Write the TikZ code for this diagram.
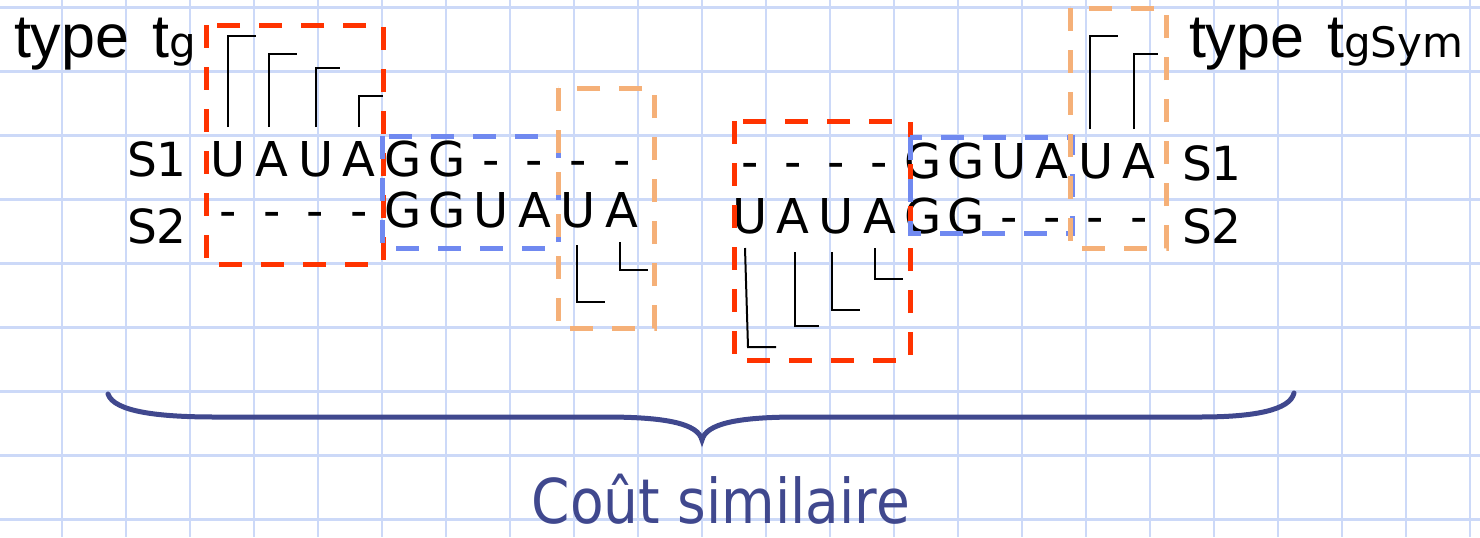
\documentclass[tikz,border=0pt]{standalone}
\usepackage{fontspec}
\setmainfont{DejaVu Sans}
\newfontfamily\typefont{Liberation Sans}
\newfontfamily\costfont[FakeStretch=0.89]{DejaVu Sans}
\definecolor{gridblue}{RGB}{204,217,248}
\definecolor{boxred}{RGB}{255,51,0}
\definecolor{boxblue}{RGB}{112,137,240}
\definecolor{boxorange}{RGB}{245,176,120}
\definecolor{bracecol}{RGB}{64,72,142}
\begin{document}
\begin{tikzpicture}[x=0.5pt,y=-0.5pt,
  gridline/.style={draw=gridblue,line width=1.3pt},
  dbox/.style={line width=2.5pt,dash pattern=on 11.5pt off 9.5pt},
  redbox/.style={dbox,draw=boxred},
  bluebox/.style={dbox,draw=boxblue},
  orangebox/.style={dbox,draw=boxorange},
  link/.style={draw=black,line width=1pt},
  seq/.style={inner sep=0pt,outer sep=0pt,anchor=base,
    font=\fontsize{24pt}{28pt}\selectfont},
  rowlabel/.style={inner sep=0pt,outer sep=0pt,anchor=base west,
    font=\fontsize{23.5pt}{28pt}\selectfont},
  typelabel/.style={inner sep=0pt,outer sep=0pt,anchor=base west,
    font=\typefont\fontsize{30.5pt}{34pt}\selectfont},
  costlabel/.style={inner sep=0pt,outer sep=0pt,anchor=base,text=bracecol,
    text depth=0pt,font=\costfont\fontsize{30.9pt}{36pt}\selectfont}]
\newcommand{\subg}[1]{{\fontsize{21pt}{24pt}\selectfont\rmfamily #1}}

% canvas and squared paper
\fill[white] (0,0) rectangle (1480,537);
\useasboundingbox (0,0) rectangle (1480,537);
\begin{scope}
  \clip (0,0) rectangle (1480,537);
  \foreach \k in {0,...,23} \draw[gridline] ({-2+64*\k},0) -- ({-2+64*\k},537);
  \foreach \k in {0,...,8} \draw[gridline] (0,{7.5+64*\k}) -- (1480,{7.5+64*\k});
\end{scope}

% titles
\node[typelabel] (tg) at (14,57) {type\ \kern3pt t\subg{g}};
\node[typelabel] (tgsym) at (1189,57) {type\ \kern3pt t\subg{gSym}};

% row labels
\node[rowlabel] (s1l) at (127,176) {S1};
\node[rowlabel] (s2l) at (127,243) {S2};
\node[rowlabel] (s1r) at (1182,180) {S1};
\node[rowlabel] (s2r) at (1182,243) {S2};

% left alignment
\foreach \ch [count=\i from 0] in {U,A,U,A,G,G,-,-,-,-}
  \node[seq] (la\i) at ({228+43.8*\i},176) {\ch};
\foreach \ch [count=\i from 0] in {-,-,-,-,G,G,U,A,U,A}
  \node[seq] (lb\i) at ({228+43.8*\i},227) {\ch};

% right alignment
\foreach \ch [count=\i from 0] in {-,-,-,-,G,G,U,A,U,A}
  \node[seq] (ra\i) at ({750+43.2*\i},178) {\ch};
\foreach \ch [count=\i from 0] in {U,A,U,A,G,G,-,-,-,-}
  \node[seq] (rb\i) at ({750+43.2*\i},233) {\ch};

% pairing marks
\draw[link] (228,127) -- (228,36) -- (256,36);
\draw[link] (269,127) -- (269,54) -- (297,54);
\draw[link] (316,127) -- (316,68) -- (340,68);
\draw[link] (359,127) -- (359,96) -- (383,96);
\draw[link] (577,245) -- (577,302) -- (605,302);
\draw[link] (620,242) -- (620,270) -- (648,270);
\draw[link] (745,248) -- (748,347) -- (776,347);
\draw[link] (795,252) -- (795,326) -- (819,326);
\draw[link] (832,252) -- (832,310) -- (860,310);
\draw[link] (875,248) -- (875,279) -- (903,279);
\draw[link] (1090,129) -- (1090,36) -- (1118,36);
\draw[link] (1134,129) -- (1134,54) -- (1158,54);

% dashed groupings
\draw[redbox] (206,25) rectangle (383,264);
\draw[bluebox] (382,136) rectangle (558,248);
\draw[orangebox] (558,88) rectangle (654,328);
\draw[redbox] (734,121) rectangle (910,360);
\draw[bluebox] (910,137) rectangle (1072,233);
\draw[orangebox] (1070,8) rectangle (1166,248);

% brace and caption
\draw[bracecol,line width=2.5pt,line cap=round]
  (108,394) .. controls (114,412) and (160,417) .. (215,417)
  -- (605,417) .. controls (668,417) and (698,424) .. (702,440)
  .. controls (706,424) and (736,417) .. (798,417)
  -- (1200,417) .. controls (1255,417) and (1290,410) .. (1294,393);
\node[costlabel] (cost) at (721,523) {Coût similaire};
\end{tikzpicture}
\end{document}
